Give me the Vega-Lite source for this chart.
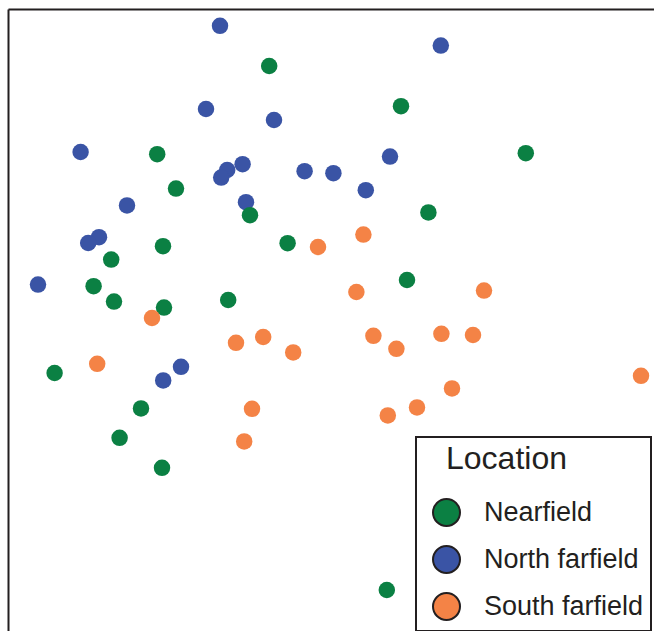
{
  "$schema": "https://vega.github.io/schema/vega-lite/v6.json",
  "width": 646,
  "height": 622,
  "autosize": "none",
  "padding": {"left": 8, "top": 9, "right": 0, "bottom": 0},
  "background": "white",
  "config": {
    "view": {"stroke": null},
    "font": "Liberation Sans",
    "legend": {"strokeWidth": 2}
  },
  "data": {
    "values": [
      {"NMDS1": -0.55, "NMDS2": 1.471, "Location": "North farfield"},
      {"NMDS1": 0.554, "NMDS2": 1.372, "Location": "North farfield"},
      {"NMDS1": -0.62, "NMDS2": 1.055, "Location": "North farfield"},
      {"NMDS1": -0.28, "NMDS2": 1.0, "Location": "North farfield"},
      {"NMDS1": -1.247, "NMDS2": 0.84, "Location": "North farfield"},
      {"NMDS1": -0.437, "NMDS2": 0.779, "Location": "North farfield"},
      {"NMDS1": -0.514, "NMDS2": 0.75, "Location": "North farfield"},
      {"NMDS1": -0.544, "NMDS2": 0.712, "Location": "North farfield"},
      {"NMDS1": -0.127, "NMDS2": 0.744, "Location": "North farfield"},
      {"NMDS1": 0.017, "NMDS2": 0.734, "Location": "North farfield"},
      {"NMDS1": 0.3, "NMDS2": 0.817, "Location": "North farfield"},
      {"NMDS1": 0.179, "NMDS2": 0.649, "Location": "North farfield"},
      {"NMDS1": -1.015, "NMDS2": 0.573, "Location": "North farfield"},
      {"NMDS1": -0.42, "NMDS2": 0.589, "Location": "North farfield"},
      {"NMDS1": -1.155, "NMDS2": 0.414, "Location": "North farfield"},
      {"NMDS1": -1.209, "NMDS2": 0.385, "Location": "North farfield"},
      {"NMDS1": -1.46, "NMDS2": 0.177, "Location": "North farfield"},
      {"NMDS1": -0.745, "NMDS2": -0.234, "Location": "North farfield"},
      {"NMDS1": -0.834, "NMDS2": -0.302, "Location": "North farfield"},
      {"NMDS1": -0.304, "NMDS2": 1.27, "Location": "Nearfield"},
      {"NMDS1": 0.355, "NMDS2": 1.069, "Location": "Nearfield"},
      {"NMDS1": -0.864, "NMDS2": 0.829, "Location": "Nearfield"},
      {"NMDS1": 0.979, "NMDS2": 0.834, "Location": "Nearfield"},
      {"NMDS1": -0.77, "NMDS2": 0.657, "Location": "Nearfield"},
      {"NMDS1": -0.4, "NMDS2": 0.524, "Location": "Nearfield"},
      {"NMDS1": 0.492, "NMDS2": 0.538, "Location": "Nearfield"},
      {"NMDS1": -0.212, "NMDS2": 0.384, "Location": "Nearfield"},
      {"NMDS1": -0.835, "NMDS2": 0.369, "Location": "Nearfield"},
      {"NMDS1": -1.094, "NMDS2": 0.302, "Location": "Nearfield"},
      {"NMDS1": 0.385, "NMDS2": 0.2, "Location": "Nearfield"},
      {"NMDS1": -1.182, "NMDS2": 0.169, "Location": "Nearfield"},
      {"NMDS1": -1.08, "NMDS2": 0.092, "Location": "Nearfield"},
      {"NMDS1": -0.509, "NMDS2": 0.1, "Location": "Nearfield"},
      {"NMDS1": -0.83, "NMDS2": 0.062, "Location": "Nearfield"},
      {"NMDS1": -1.377, "NMDS2": -0.265, "Location": "Nearfield"},
      {"NMDS1": -0.945, "NMDS2": -0.442, "Location": "Nearfield"},
      {"NMDS1": -1.052, "NMDS2": -0.589, "Location": "Nearfield"},
      {"NMDS1": -0.84, "NMDS2": -0.739, "Location": "Nearfield"},
      {"NMDS1": 0.284, "NMDS2": -1.35, "Location": "Nearfield"},
      {"NMDS1": 0.167, "NMDS2": 0.427, "Location": "South farfield"},
      {"NMDS1": -0.06, "NMDS2": 0.365, "Location": "South farfield"},
      {"NMDS1": 0.77, "NMDS2": 0.147, "Location": "South farfield"},
      {"NMDS1": 0.132, "NMDS2": 0.14, "Location": "South farfield"},
      {"NMDS1": -0.89, "NMDS2": 0.01, "Location": "South farfield"},
      {"NMDS1": -0.334, "NMDS2": -0.085, "Location": "South farfield"},
      {"NMDS1": -0.47, "NMDS2": -0.114, "Location": "South farfield"},
      {"NMDS1": 0.217, "NMDS2": -0.079, "Location": "South farfield"},
      {"NMDS1": 0.557, "NMDS2": -0.069, "Location": "South farfield"},
      {"NMDS1": 0.715, "NMDS2": -0.075, "Location": "South farfield"},
      {"NMDS1": 0.332, "NMDS2": -0.144, "Location": "South farfield"},
      {"NMDS1": -0.184, "NMDS2": -0.162, "Location": "South farfield"},
      {"NMDS1": -1.164, "NMDS2": -0.219, "Location": "South farfield"},
      {"NMDS1": 1.555, "NMDS2": -0.279, "Location": "South farfield"},
      {"NMDS1": 0.61, "NMDS2": -0.342, "Location": "South farfield"},
      {"NMDS1": -0.39, "NMDS2": -0.444, "Location": "South farfield"},
      {"NMDS1": 0.435, "NMDS2": -0.437, "Location": "South farfield"},
      {"NMDS1": 0.289, "NMDS2": -0.477, "Location": "South farfield"},
      {"NMDS1": -0.429, "NMDS2": -0.607, "Location": "South farfield"}
    ]
  },
  "mark": {"type": "point", "shape": "circle", "filled": true, "size": 272, "opacity": 1, "strokeWidth": 0},
  "encoding": {
    "x": {
      "field": "NMDS1",
      "type": "quantitative",
      "scale": {"domain": [-1.61, 1.62], "nice": false, "zero": false},
      "axis": {"orient": "top", "title": null, "labels": false, "ticks": false, "grid": false, "domainColor": "#231f20", "domainWidth": 2}
    },
    "y": {
      "field": "NMDS2",
      "type": "quantitative",
      "scale": {"domain": [-1.555, 1.555], "nice": false, "zero": false},
      "axis": {"orient": "left", "title": null, "labels": false, "ticks": false, "grid": false, "domainColor": "#231f20", "domainWidth": 2}
    },
    "color": {
      "field": "Location",
      "type": "nominal",
      "scale": {
        "domain": ["Nearfield", "North farfield", "South farfield"],
        "range": ["#0b8043", "#3a54a5", "#f48346"]
      },
      "legend": {
        "title": "\u2800Location",
        "orient": "none",
        "legendX": 408,
        "legendY": 428,
        "padding": 7,
        "strokeColor": "#231f20",
        "fillColor": "white",
        "titleFont": "Liberation Sans",
        "titleFontSize": 32,
        "titleFontWeight": "normal",
        "titleColor": "#231f20",
        "titlePadding": 22,
        "labelFont": "Liberation Sans",
        "labelFontSize": 27,
        "labelColor": "#231f20",
        "labelOffset": 23,
        "labelLimit": 400,
        "symbolType": "circle",
        "symbolSize": 729,
        "symbolStrokeWidth": 2,
        "symbolStrokeColor": "#231f20",
        "symbolOpacity": 1,
        "symbolOffset": 9,
        "rowPadding": 12,
        "encode": {
          "symbols": {"update": {"stroke": {"value": "#231f20"}, "strokeWidth": {"value": 2}}}
        }
      }
    }
  }
}
